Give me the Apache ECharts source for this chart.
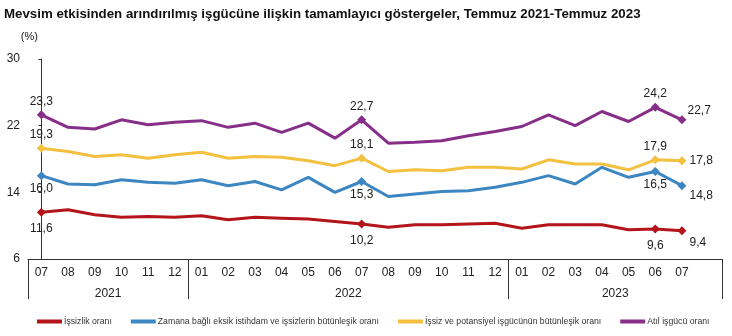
<!DOCTYPE html>
<html>
<head>
<meta charset="utf-8">
<script src="https://cdn.jsdelivr.net/npm/echarts@6/dist/echarts.min.js"></script>
<style>
html,body{margin:0;padding:0;background:#fff;}
#c{width:732px;height:336px;}
</style>
</head>
<body>
<div id="c"></div>
<script>
// ---- data ----
const months = ['07','08','09','10','11','12','01','02','03','04','05','06','07','08','09','10','11','12','01','02','03','04','05','06','07',''];
const years = ['2021','2022','2023'];
const yearCenters = [2.5, 11.5, 21.5];      // category-index centres of year groups
const yearBreaks = [0, 6, 18];              // first category index of each year
const issizlik = [11.6, 11.9, 11.3, 11.0, 11.1, 11.0, 11.2, 10.7, 11.0, 10.9, 10.8, 10.5, 10.2, 9.8, 10.1, 10.1, 10.2, 10.3, 9.7, 10.1, 10.1, 10.1, 9.5, 9.6, 9.4];
const zamana = [16.0, 15.0, 14.9, 15.5, 15.2, 15.1, 15.5, 14.8, 15.3, 14.3, 15.8, 14.0, 15.3, 13.5, 13.8, 14.1, 14.2, 14.6, 15.2, 16.0, 15.0, 17.0, 15.8, 16.5, 14.8];
const potansiyel = [19.3, 18.9, 18.3, 18.5, 18.1, 18.5, 18.8, 18.1, 18.3, 18.2, 17.8, 17.2, 18.1, 16.5, 16.7, 16.6, 17.0, 17.0, 16.8, 17.9, 17.4, 17.4, 16.7, 17.9, 17.8];
const atil = [23.3, 21.8, 21.6, 22.7, 22.1, 22.4, 22.6, 21.8, 22.3, 21.2, 22.3, 20.5, 22.7, 19.9, 20.0, 20.2, 20.8, 21.3, 21.9, 23.3, 22.0, 23.7, 22.5, 24.2, 22.7];
const labeledIdx = [0, 12, 23, 24];
const seriesNames = ['İşsizlik oranı', 'Zamana bağlı eksik istihdam ve işsizlerin bütünleşik oranı', 'İşsiz ve potansiyel işgücünün bütünleşik oranı', 'Atıl işgücü oranı'];
const yTicks = {min: 6, max: 30, interval: 8};

// ---- styles ----
const FONT = 'Liberation Sans, Arial, sans-serif';
const styles = [
  {color: '#B3151B', pos: 'bottom', dist: 6, lastPos: 'right', lastOffset: [-3, 12]},
  {color: '#3C86C2', pos: 'bottom', dist: 3, lastPos: 'right', lastOffset: [-3, 10]},
  {color: '#F3C03F', pos: 'top', dist: 3, lastPos: 'right', lastOffset: [-3, 0]},
  {color: '#862E88', pos: 'top', dist: 3, lastPos: 'right', lastOffset: [-5, -9]}
];
const allData = [issizlik, zamana, potansiyel, atil];

function fmt(v) { return v.toFixed(1).replace('.', ','); }

const series = allData.map((arr, si) => {
  const st = styles[si];
  return {
    name: seriesNames[si],
    type: 'line',
    xAxisIndex: 0,
    yAxisIndex: 0,
    symbol: 'none',
    showAllSymbol: true,
    lineStyle: {color: st.color, width: 3},
    itemStyle: {color: st.color},
    color: st.color,
    emphasis: {disabled: true},
    data: arr.map((v, i) => {
      if (labeledIdx.indexOf(i) < 0) return v;
      const last = i === arr.length - 1;
      return {
        value: v,
        symbol: 'diamond',
        symbolSize: 9,
        label: {
          show: true,
          position: last ? st.lastPos : st.pos,
          offset: last ? st.lastOffset : [0, 0],
          distance: last ? 6 : st.dist,
          formatter: p => fmt(p.value),
          color: '#222',
          fontSize: 12,
          fontFamily: FONT
        }
      };
    })
  };
});

const chart = echarts.init(document.getElementById('c'), null, {renderer: 'canvas'});
chart.setOption({
  animation: false,
  backgroundColor: '#fff',
  title: {
    text: 'Mevsim etkisinden arındırılmış işgücüne ilişkin tamamlayıcı göstergeler, Temmuz 2021-Temmuz 2023',
    left: -1, top: 3,
    textStyle: {fontSize: 13.3, fontWeight: 'bold', color: '#111', fontFamily: FONT}
  },
  legend: {
    left: 32, top: 312,
    icon: 'rect', itemWidth: 25, itemHeight: 4, itemGap: 19,
    textStyle: {fontSize: 8.7, color: '#333', fontFamily: FONT, padding: [0, 0, 0, -3]},
    data: seriesNames
  },
  grid: {left: 28, right: 10, top: 59, bottom: 77, containLabel: false},
  xAxis: [{
    type: 'category',
    data: months,
    boundaryGap: true,
    axisLine: {show: true, lineStyle: {color: '#333', width: 1}},
    axisTick: {show: true, length: 40, interval: (i) => yearBreaks.indexOf(i) >= 0, lineStyle: {color: '#333'}},
    axisLabel: {interval: 0, margin: 8, fontSize: 12, color: '#222', fontFamily: FONT},
    splitLine: {show: false}
  }, {
    type: 'value',
    position: 'bottom',
    min: -0.5, max: 25.5, interval: 1,
    axisLine: {show: false}, axisTick: {show: false}, splitLine: {show: false},
    axisLabel: {
      margin: 29, fontSize: 12, color: '#222', fontFamily: FONT,
      formatter: (v) => { const k = yearCenters.indexOf(v); return k >= 0 ? years[k] : ''; }
    }
  }],
  yAxis: {
    type: 'value',
    min: yTicks.min, max: yTicks.max, interval: yTicks.interval,
    name: '(%)', nameLocation: 'end', nameGap: 17,
    nameTextStyle: {fontSize: 11, color: '#222', fontFamily: FONT, align: 'center', padding: [0, 24, 0, 0]},
    axisLine: {show: true, lineStyle: {color: '#333', width: 1}},
    axisTick: {show: true, length: 3, lineStyle: {color: '#333'}},
    axisLabel: {margin: 8, fontSize: 12, color: '#222', fontFamily: FONT},
    splitLine: {show: false}
  },
  series: series
});
</script>
</body>
</html>
